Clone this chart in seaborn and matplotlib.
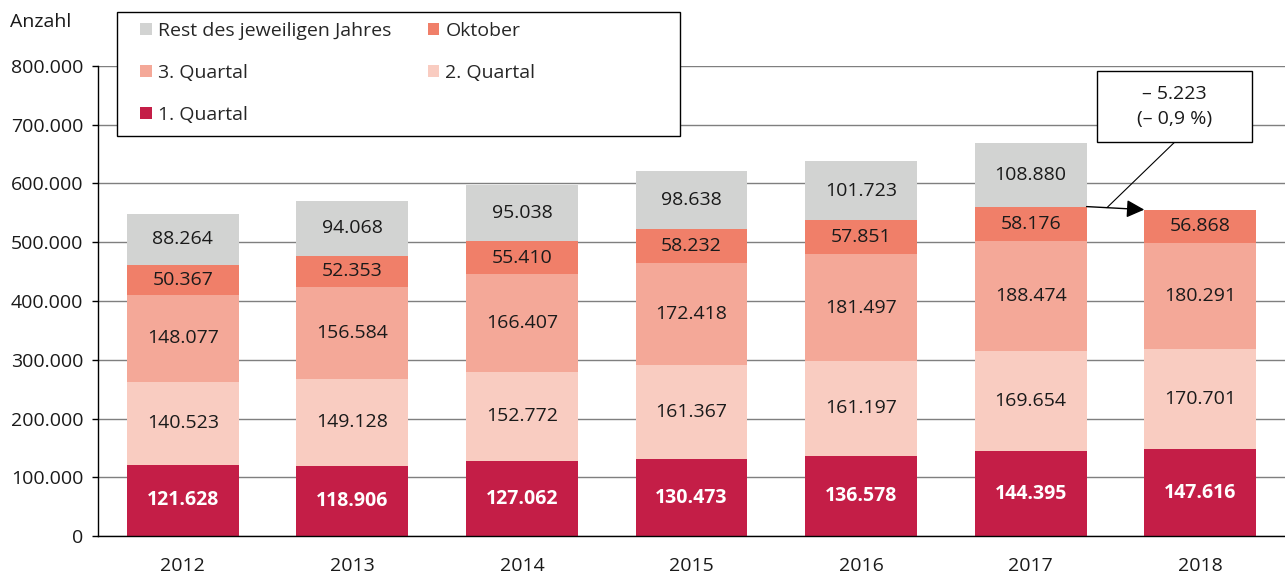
import numpy as np
import pandas as pd
import matplotlib.pyplot as plt
from matplotlib.patches import Patch, Rectangle
import seaborn as sns

years = ["2012", "2013", "2014", "2015", "2016", "2017", "2018"]
q1 = [121628, 118906, 127062, 130473, 136578, 144395, 147616]
q2 = [140523, 149128, 152772, 161367, 161197, 169654, 170701]
q3 = [148077, 156584, 166407, 172418, 181497, 188474, 180291]
oktober = [50367, 52353, 55410, 58232, 57851, 58176, 56868]
rest = [88264, 94068, 95038, 98638, 101723, 108880, 0]

series = ["1. Quartal", "2. Quartal", "3. Quartal", "Oktober", "Rest des jeweiligen Jahres"]
colors = ["#C41E47", "#F9CCC1", "#F4A898", "#F07F69", "#D2D3D2"]
diff_text = "\u2013 5.223\n(\u2013 0,9 %)"


def fmt(v):
    return f"{int(v):,}".replace(",", ".")


df = pd.DataFrame({"Jahr": years, series[0]: q1, series[1]: q2, series[2]: q3,
                   series[3]: oktober, series[4]: rest})
cum = df[series].cumsum(axis=1)
cum["Jahr"] = years

sns.set_theme(style="white")
plt.rcParams["font.family"] = ["Open Sans", "DejaVu Sans"]
FS = 14

W, H = 1285, 574
fig = plt.figure(figsize=(W / 100, H / 100), dpi=100)
ax = fig.add_axes([98 / W, 1 - 536 / H, 1 - 98 / W, (536 - 66) / H])

BAR_W = 0.66
# stacked bars: draw cumulative totals from the top down
for name, col in reversed(list(zip(series, colors))):
    sns.barplot(data=cum, x="Jahr", y=name, color=col, width=BAR_W,
                saturation=1, ax=ax, zorder=2, linewidth=0)

# segment labels
for i in range(len(years)):
    lower = 0
    for k, name in enumerate(series):
        v = df[name][i]
        if v > 0:
            ax.text(i, lower + v / 2, fmt(v), ha="center", va="center",
                    fontsize=FS, color="white" if k == 0 else "#1a1a1a",
                    fontweight="bold" if k == 0 else "normal", zorder=5)
        lower += v

ax.set_xlim(-0.5, 6.5)
ax.set_ylim(0, 800000)
ax.set_yticks(np.arange(0, 800001, 100000))
ax.set_yticklabels([fmt(v) for v in np.arange(0, 800001, 100000)], fontsize=FS, color="#1a1a1a")
ax.set_xticks(range(len(years)))
ax.set_xticklabels(years, fontsize=FS, color="#1a1a1a")
ax.set_xticks(np.arange(-0.5, 7, 1), minor=True)
ax.tick_params(axis="x", which="major", length=0, pad=15)
ax.tick_params(axis="x", which="minor", length=5, width=1, color="black", direction="out")
ax.tick_params(axis="y", length=4.5, width=1, color="black", direction="out", pad=6, left=True)
ax.set_xlabel("")
ax.set_ylabel("")
ax.grid(axis="y", color="#7f7f7f", linewidth=1, zorder=0)
ax.set_axisbelow(True)
for s in ["top", "right"]:
    ax.spines[s].set_visible(False)
for s in ["left", "bottom"]:
    ax.spines[s].set_color("black")
    ax.spines[s].set_linewidth(1)

# change annotation 2017 -> 2018 (without "Rest")
y17 = cum[series[3]][5]
y18 = cum[series[3]][6]
ax.annotate("", xy=(6 - BAR_W / 2, y18), xytext=(5 + BAR_W / 2, y17),
            arrowprops=dict(arrowstyle="-|>,head_length=0.9,head_width=0.45",
                            color="black", lw=1, shrinkA=0, shrinkB=0), zorder=6)
ax.plot([5.85, 5.45], [670600, y17 - (y17 - y18) * 0.35], color="black", lw=0.8,
        zorder=6, clip_on=False)
ax.add_patch(Rectangle((5.39, 670600), 0.916, 121000, facecolor="white",
                       edgecolor="black", lw=1, zorder=7, clip_on=False))
ax.text(5.85, 731000, diff_text, ha="center", va="center", fontsize=FS,
        color="#1a1a1a", zorder=8, linespacing=1.45)

# legend box
fig.add_artist(Rectangle((117 / W, 1 - 136 / H), (680 - 117) / W, (136 - 12) / H,
                         transform=fig.transFigure, facecolor="white",
                         edgecolor="black", lw=1, zorder=3))
order = [4, 2, 0, 3, 1]
handles = [Patch(facecolor=colors[k], edgecolor="none", label=series[k]) for k in order]
fig.legend(handles=handles, ncol=2, loc="upper left",
           bbox_to_anchor=(140 / W, 1 - 22 / H), frameon=False, fontsize=FS,
           borderpad=0, borderaxespad=0, handlelength=0.6, handleheight=0.6,
           handletextpad=0.3, columnspacing=1.9, labelspacing=1.23)

fig.text(10 / W, 1 - 22 / H, "Anzahl", fontsize=FS, va="center", color="#1a1a1a")

fig.savefig("out.png", dpi=100)
